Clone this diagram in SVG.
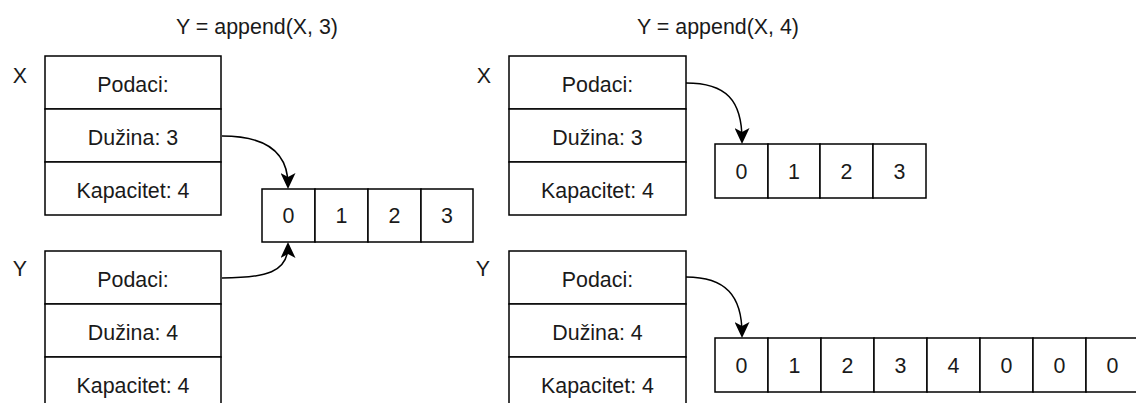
<svg xmlns="http://www.w3.org/2000/svg" width="1136" height="403" viewBox="0 0 1136 403">
<style>
text{font-family:"Liberation Sans",Arial,sans-serif;font-size:21.4px;fill:#1a1a1a;text-anchor:middle}
.b{fill:#fff;stroke:#000;stroke-width:1.5}
.c{fill:none;stroke:#000;stroke-width:1.5}
</style>
<defs>
<marker id="ah" viewBox="0 0 16 15" refX="12" refY="7.5" markerWidth="16" markerHeight="15" markerUnits="userSpaceOnUse" orient="auto">
<path d="M0,0 L16,7.5 L0,15 L4,7.5 z" fill="#000"/>
</marker>
</defs>
<rect width="1136" height="403" fill="#fff"/>
<text x="257" y="34">Y = append(X, 3)</text>
<text x="718" y="34">Y = append(X, 4)</text>

<g id="left-X">
<text x="20" y="83">X</text>
<rect class="b" x="45" y="56" width="176" height="53"/>
<rect class="b" x="45" y="109" width="176" height="53"/>
<rect class="b" x="45" y="162" width="176" height="53"/>
<text x="133" y="91.5">Podaci:</text>
<text x="133" y="144.5">Dužina: 3</text>
<text x="133" y="197.5">Kapacitet: 4</text>
</g>

<g id="left-Y">
<text x="20" y="276">Y</text>
<rect class="b" x="45" y="251" width="176" height="53"/>
<rect class="b" x="45" y="304" width="176" height="53"/>
<rect class="b" x="45" y="357" width="176" height="53"/>
<text x="133" y="286.5">Podaci:</text>
<text x="133" y="339.5">Dužina: 4</text>
<text x="133" y="392.5">Kapacitet: 4</text>
</g>

<g id="left-array">
<rect class="b" x="262" y="189" width="53" height="53"/>
<rect class="b" x="315" y="189" width="53" height="53"/>
<rect class="b" x="368" y="189" width="53" height="53"/>
<rect class="b" x="421" y="189" width="52" height="53"/>
<text x="288.5" y="223">0</text>
<text x="341.5" y="223">1</text>
<text x="394.5" y="223">2</text>
<text x="447" y="223">3</text>
</g>

<g id="right-X">
<text x="484" y="83">X</text>
<rect class="b" x="509" y="56" width="177" height="53"/>
<rect class="b" x="509" y="109" width="177" height="53"/>
<rect class="b" x="509" y="162" width="177" height="53"/>
<text x="597.5" y="91.5">Podaci:</text>
<text x="597.5" y="144.5">Dužina: 3</text>
<text x="597.5" y="197.5">Kapacitet: 4</text>
</g>

<g id="right-Y">
<text x="483" y="276">Y</text>
<rect class="b" x="509" y="251" width="177" height="53"/>
<rect class="b" x="509" y="304" width="177" height="53"/>
<rect class="b" x="509" y="357" width="177" height="53"/>
<text x="597.5" y="286.5">Podaci:</text>
<text x="597.5" y="339.5">Dužina: 4</text>
<text x="597.5" y="392.5">Kapacitet: 4</text>
</g>

<g id="right-array-small">
<rect class="b" x="715" y="144" width="53" height="54"/>
<rect class="b" x="768" y="144" width="52" height="54"/>
<rect class="b" x="820" y="144" width="53" height="54"/>
<rect class="b" x="873" y="144" width="53" height="54"/>
<text x="741.5" y="178.5">0</text>
<text x="794" y="178.5">1</text>
<text x="846.5" y="178.5">2</text>
<text x="899.5" y="178.5">3</text>
</g>

<g id="right-array-large">
<rect class="b" x="715" y="338" width="53" height="54"/>
<rect class="b" x="768" y="338" width="53" height="54"/>
<rect class="b" x="821" y="338" width="53" height="54"/>
<rect class="b" x="874" y="338" width="53" height="54"/>
<rect class="b" x="927" y="338" width="53" height="54"/>
<rect class="b" x="980" y="338" width="53" height="54"/>
<rect class="b" x="1033" y="338" width="53" height="54"/>
<rect class="b" x="1086" y="338" width="53" height="54"/>
<text x="741.5" y="372.5">0</text>
<text x="794.5" y="372.5">1</text>
<text x="847.5" y="372.5">2</text>
<text x="900.5" y="372.5">3</text>
<text x="953.5" y="372.5">4</text>
<text x="1006.5" y="372.5">0</text>
<text x="1059.5" y="372.5">0</text>
<text x="1112.5" y="372.5">0</text>
</g>

<g id="connectors">
<path class="c" d="M222 136 C 262 136, 288 150, 288 185" marker-end="url(#ah)"/>
<path class="c" d="M222 278 C 266 278, 288 272, 288 246" marker-end="url(#ah)"/>
<path class="c" d="M686 83 C 726 83, 742 100, 742 140" marker-end="url(#ah)"/>
<path class="c" d="M686 277 C 726 277, 742 296, 742 334" marker-end="url(#ah)"/>
</g>
</svg>
